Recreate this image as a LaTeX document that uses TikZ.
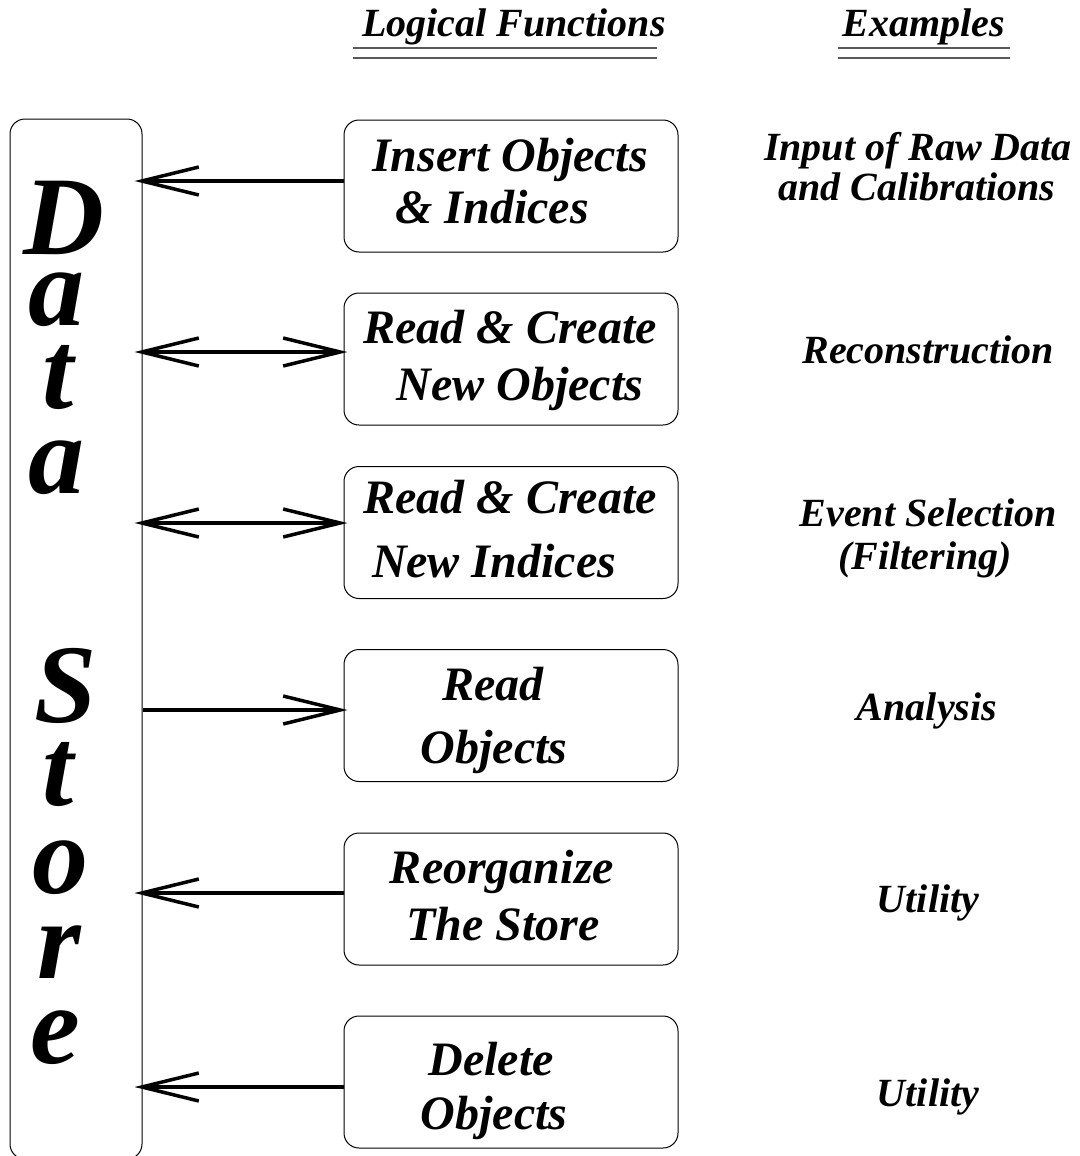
\documentclass[tikz,border=0pt]{standalone}
\usepackage{fontspec}
\setmainfont{Liberation Serif}
\usetikzlibrary{arrows.meta}
\begin{document}
\begin{tikzpicture}[x=1pt,y=-1pt,
  fbox/.style={draw=black, line width=1pt, rounded corners=15pt, minimum width=334pt, minimum height=132pt, inner sep=0pt},
  boxtxt/.style={anchor=base, inner sep=0pt, font=\fontsize{48}{48}\selectfont\bfseries\itshape},
  extxt/.style={anchor=base, inner sep=0pt, font=\fontsize{40}{40}\selectfont\bfseries\itshape},
  bigtxt/.style={anchor=base, inner sep=0pt, text depth=0pt, text height=60pt, font=\fontsize{112}{112}\selectfont\bfseries\itshape},
  uline/.style={draw=black!65, line width=1.6pt},
  arr/.style={line width=3.5pt, -{Straight Barb[length=57pt, width=28pt]}},
  darr/.style={line width=3.5pt, {Straight Barb[length=57pt, width=28pt]}-{Straight Barb[length=57pt, width=28pt]}}
]
\useasboundingbox (0,0) rectangle (1079,1156);

% headers
\node[extxt] (hlf) at (514,37) {Logical Functions};
\node[extxt] (hex) at (924,37) {Examples};
\draw[uline] (353,48) -- (657,48);
\draw[uline] (353,58) -- (657,58);
\draw[uline] (838,48) -- (1010,48);
\draw[uline] (838,58) -- (1010,58);

% data store
\node[draw=black, line width=1pt, rounded corners=15pt, minimum width=132pt, minimum height=1040pt, inner sep=0pt] (ds) at (76,639) {};
\node[bigtxt] (l1) at (64,254) {D};
\node[bigtxt] (l2) at (56,325) {a};
\node[bigtxt] (l3) at (58,408) {t};
\node[bigtxt] (l4) at (56,493) {a};
\node[bigtxt] (l5) at (66,722) {S};
\node[bigtxt] (l6) at (58,805) {t};
\node[bigtxt] (l7) at (60,893) {o};
\node[bigtxt] (l8) at (59,978) {r};
\node[bigtxt] (l9) at (55,1063) {e};

% function boxes
\node[fbox] (b1) at (511,186) {};
\node[fbox] (b2) at (511,359) {};
\node[fbox] (b3) at (511,532.5) {};
\node[fbox] (b4) at (511,715.5) {};
\node[fbox] (b5) at (511,899) {};
\node[fbox] (b6) at (511,1082) {};

\node[boxtxt] (t1a) at (510,171) {Insert Objects};
\node[boxtxt] (t1b) at (492,223) {\& Indices};
\node[boxtxt] (t2a) at (510,343) {Read \& Create};
\node[boxtxt] (t2b) at (520,400) {New Objects};
\node[boxtxt] (t3a) at (510,513) {Read \& Create};
\node[boxtxt] (t3b) at (494,577) {New Indices};
\node[boxtxt] (t4a) at (493,700) {Read};
\node[boxtxt] (t4b) at (494,763) {Objects};
\node[boxtxt] (t5a) at (502,883) {Reorganize};
\node[boxtxt] (t5b) at (503,940) {The Store};
\node[boxtxt] (t6a) at (491,1075) {Delete};
\node[boxtxt] (t6b) at (494,1129) {Objects};

% examples
\node[extxt] (e1a) at (918,160) {Input of Raw Data};
\node[extxt] (e1b) at (917,200) {and Calibrations};
\node[extxt] (e2) at (928,363) {Reconstruction};
\node[extxt] (e3a) at (928,526) {Event Selection};
\node[extxt] (e3b) at (925,569) {(Filtering)};
\node[extxt] (e4) at (927,720) {Analysis};
\node[extxt] (e5) at (928,912) {Utility};
\node[extxt] (e6) at (928,1106) {Utility};

% connectors
\draw[arr, shorten >=-8pt] ([yshift=5pt]b1.west) -- ([yshift=5pt]b1.west -| ds.east);
\draw[darr, shorten <=-8pt, shorten >=-4pt] ([yshift=7pt]b2.west -| ds.east) -- ([yshift=7pt]b2.west);
\draw[darr, shorten <=-8pt, shorten >=-4pt] ([yshift=9.5pt]b3.west -| ds.east) -- ([yshift=9.5pt]b3.west);
\draw[arr, shorten >=-4pt] ([yshift=5.5pt]b4.west -| ds.east) -- ([yshift=5.5pt]b4.west);
\draw[arr, shorten >=-8pt] ([yshift=6pt]b5.west) -- ([yshift=6pt]b5.west -| ds.east);
\draw[arr, shorten >=-8pt] ([yshift=-5pt]b6.west) -- ([yshift=-5pt]b6.west -| ds.east);
\end{tikzpicture}
\end{document}
